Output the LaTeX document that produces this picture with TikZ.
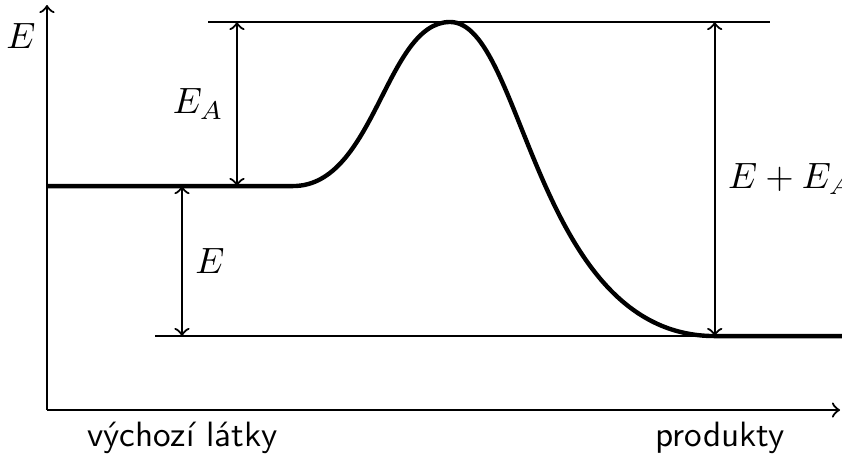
\documentclass[tikz,border=0pt]{standalone}
\usepackage{fontspec}
\usetikzlibrary{positioning,calc}
\tikzset{
 axisarrow/.style={->,line width=0.6pt},
 level/.style={line width=0.55pt},
 profile/.style={line width=1.2pt},
 dimarrow/.style={<->,line width=0.6pt},
 axislabel/.style={font=\sffamily\fontsize{9.6}{11}\selectfont}}

\begin{document}
\begin{tikzpicture}
\useasboundingbox (-0.451,-0.432) rectangle (7.632,3.936);
% axes
\coordinate (origin) at (0,0);
\coordinate (ytip) at (0,3.888);
\coordinate (xtip) at (7.613,0);
\draw[axisarrow] (origin) -- (ytip);
\draw[axisarrow] (origin) -- (xtip);
\node (ylabel) at (-0.25,3.59) {$E$};
\node[axislabel] (reactants) at (1.30,-0.269) {výchozí látky};
\node[axislabel] (products) at (6.461,-0.269) {produkty};
% energy levels
\coordinate (topL) at (1.546,3.725);
\coordinate (topR) at (6.941,3.725);
\coordinate (botL) at (1.037,0.710);
\coordinate (botR) at (7.632,0.710);
\coordinate (startL) at (0,2.150);
\draw[level] (topL) -- (topR);
\draw[level] (botL) -- (botR);
% reaction profile
\draw[profile] (startL) -- (2.362,2.150)
  .. controls (3.149,2.150) and (3.250,3.725) .. (3.869,3.725)
  .. controls (4.579,3.725) and (4.675,0.710) .. (6.41,0.710) -- (botR);
% differences
\coordinate (eaTop) at (1.824,3.725);
\coordinate (eaBot) at (1.824,2.150);
\coordinate (eTop) at (1.296,2.150);
\coordinate (eBot) at (1.296,0.710);
\coordinate (sumTop) at (6.41,3.725);
\coordinate (sumBot) at (6.41,0.710);
\draw[dimarrow] (eaTop) -- node[left] (ealabel) {$E_A$} (eaBot);
\draw[dimarrow] (eTop) -- node[right] (elabel) {$E$} (eBot);
\draw[dimarrow] (sumTop) -- node[right] (sumlabel) {$E+E_A$} (sumBot);
\end{tikzpicture}
\end{document}
